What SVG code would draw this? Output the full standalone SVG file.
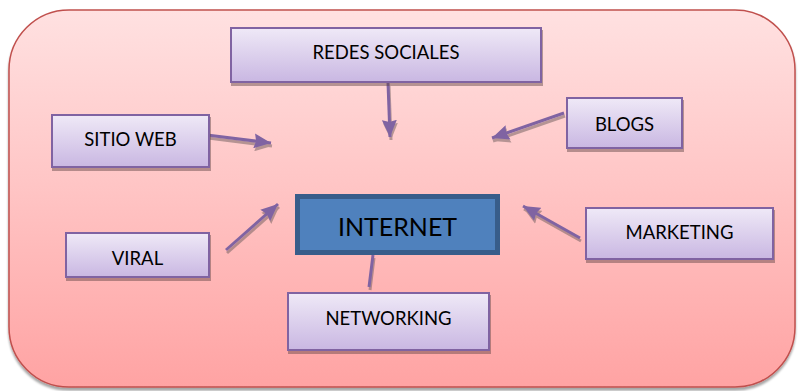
<svg xmlns="http://www.w3.org/2000/svg" width="798" height="391" viewBox="0 0 798 391">
<defs>
<linearGradient id="bgGrad" x1="0" y1="0" x2="0" y2="1">
<stop offset="0" stop-color="#FFE1E1"/>
<stop offset="0.45" stop-color="#FFC6C6"/>
<stop offset="1" stop-color="#FFA3A3"/>
</linearGradient>
<linearGradient id="boxGrad" x1="0" y1="0" x2="0" y2="1">
<stop offset="0" stop-color="#EFE9F7"/>
<stop offset="1" stop-color="#C9B7E2"/>
</linearGradient>
<filter id="shadow" x="-10%" y="-10%" width="130%" height="140%">
<feDropShadow dx="1" dy="3" stdDeviation="0.6" flood-color="#5a4040" flood-opacity="0.45"/>
</filter>
<filter id="bgShadow" x="-5%" y="-5%" width="110%" height="110%">
<feDropShadow dx="0" dy="3" stdDeviation="1" flood-color="#000000" flood-opacity="0.35"/>
</filter>
<filter id="arrShadow" x="-20%" y="-20%" width="140%" height="140%">
<feDropShadow dx="1" dy="3" stdDeviation="0.5" flood-color="#6b5a5a" flood-opacity="0.5"/>
</filter>
<marker id="arrow" markerUnits="userSpaceOnUse" markerWidth="19" markerHeight="15" refX="17" refY="7.5" orient="auto">
<path d="M0,0 L17,7.5 L0,15 L2,7.5 z" fill="#8064A2"/>
</marker>
</defs>
<style>
.box { fill: url(#boxGrad); stroke: #8064A2; stroke-width: 2; filter: url(#shadow); }
.lbl { font-family: "Lato", "Liberation Sans", sans-serif; font-size: 18.5px; fill: #000; text-anchor: middle; }
.conn { stroke: #8064A2; stroke-width: 3; fill: none; }
.arr { marker-end: url(#arrow); }
</style>
<g id="background">
<rect x="9" y="10" width="786" height="377" rx="60" ry="60" fill="url(#bgGrad)" stroke="#C0504D" stroke-width="1.5" filter="url(#bgShadow)"/>
</g>
<g id="connectors" filter="url(#arrShadow)">
<path class="conn arr" d="M388,83 L390,137"/>
<path class="conn arr" d="M207,135 L271,143"/>
<path class="conn arr" d="M564,113 L492,138"/>
<path class="conn arr" d="M226,250 L278,204"/>
<path class="conn arr" d="M580,238 L523,206"/>
<path class="conn" d="M373,255 L369,287"/>
</g>
<g id="node-redes">
<rect class="box" x="231" y="28" width="310" height="54"/>
<text class="lbl" x="386" y="59">REDES SOCIALES</text>
</g>
<g id="node-sitio">
<rect class="box" x="52" y="115" width="157" height="52"/>
<text class="lbl" x="130.5" y="146">SITIO WEB</text>
</g>
<g id="node-blogs">
<rect class="box" x="567" y="98" width="115" height="50"/>
<text class="lbl" x="624.5" y="131">BLOGS</text>
</g>
<g id="node-internet">
<rect x="297.5" y="196.5" width="200" height="56" fill="#4F81BD" stroke="#385D8A" stroke-width="5"/>
<text class="lbl" x="397.5" y="236" style="font-size:25px">INTERNET</text>
</g>
<g id="node-viral">
<rect class="box" x="66" y="233" width="143" height="44"/>
<text class="lbl" x="137.5" y="265">VIRAL</text>
</g>
<g id="node-marketing">
<rect class="box" x="586" y="208" width="187" height="51"/>
<text class="lbl" x="679.5" y="239">MARKETING</text>
</g>
<g id="node-networking">
<rect class="box" x="288" y="293" width="201" height="57"/>
<text class="lbl" x="388.5" y="325">NETWORKING</text>
</g>
</svg>
